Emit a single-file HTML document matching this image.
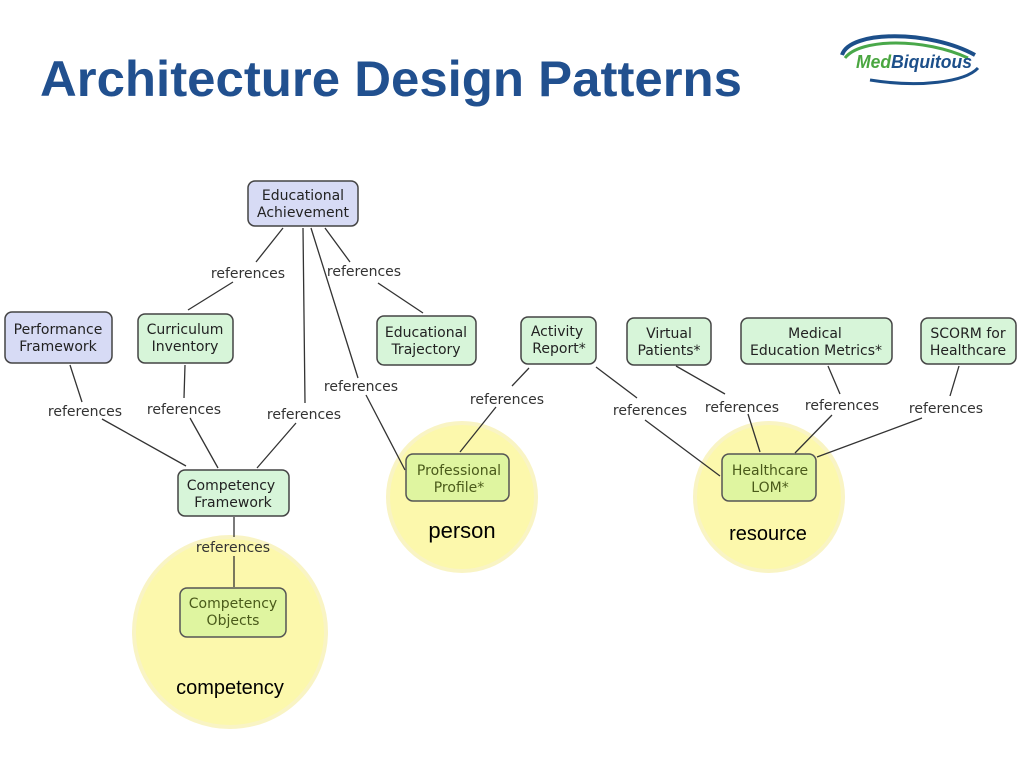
<!DOCTYPE html>
<html><head><meta charset="utf-8"><style>
html,body{margin:0;padding:0;background:#fff;width:1024px;height:768px;overflow:hidden}
svg{display:block}
.n{font-family:"DejaVu Sans",sans-serif;font-size:14px;fill:#222;text-anchor:middle}
.r{font-family:"DejaVu Sans",sans-serif;font-size:14px;fill:#333;text-anchor:middle}
.l{stroke:#333;stroke-width:1.3;fill:none}
.b{fill:#d7dbf5;stroke:#444;stroke-width:1.5}
.g{fill:#d7f5d9;stroke:#444;stroke-width:1.5}
.y{fill:#dff5a0;stroke:#555;stroke-width:1.5}
.c{fill:#fcf8ac;stroke:#f9f4c4;stroke-width:4}
.t{font-family:"Liberation Sans",sans-serif;font-size:20px;fill:#000;text-anchor:middle}
</style></head><body>
<svg width="1024" height="768" viewBox="0 0 1024 768">
<text x="40" y="96" font-family="Liberation Sans,sans-serif" font-weight="bold" font-size="50" fill="#21508f" textLength="702" lengthAdjust="spacingAndGlyphs">Architecture Design Patterns</text>
<!-- logo -->
<g>
<path d="M842 55 C850 30 930 30 975 55" stroke="#1c4f8a" stroke-width="4" fill="none"/>
<path d="M845 58 C860 38 925 38 968 58" stroke="#49a84a" stroke-width="3" fill="none"/>
<path d="M870 80 C920 88 965 82 978 68" stroke="#1c4f8a" stroke-width="3" fill="none"/>
<text x="856" y="68" font-family="Liberation Sans,sans-serif" font-weight="bold" font-style="italic" font-size="18" textLength="116" lengthAdjust="spacingAndGlyphs"><tspan fill="#4aa640">Med</tspan><tspan fill="#1c4f8a">Biquitous</tspan></text>
</g>
<!-- circles -->
<circle class="c" cx="462" cy="497" r="74"/>
<circle class="c" cx="769" cy="497" r="74"/>
<ellipse class="c" cx="230" cy="632" rx="96" ry="95"/>
<!-- lines -->
<path class="l" d="M283 228 L256 262 M233 282 L188 310 M303 228 L305 403 M311 228 L358 378 M325 228 L350 262 M378 283 L423 313
M70 365 L82 402 M102 419 L186 466 M185 365 L184 398 M190 418 L218 468 M296 423 L257 468 M366 395 L405 470
M529 368 L512 386 M496 407 L460 452 M596 367 L637 398 M645 420 L720 476 M676 366 L725 394 M748 414 L760 452
M828 366 L840 394 M832 415 L795 453 M959 366 L950 396 M922 418 L817 457 M234 517 L234 537 M234 556 L234 587"/>
<!-- references labels -->
<g class="r">
<text x="248" y="278">references</text>
<text x="364" y="276">references</text>
<text x="85" y="416">references</text>
<text x="184" y="414">references</text>
<text x="304" y="419">references</text>
<text x="361" y="391">references</text>
<text x="507" y="404">references</text>
<text x="650" y="415">references</text>
<text x="742" y="412">references</text>
<text x="842" y="410">references</text>
<text x="946" y="413">references</text>
<text x="233" y="552">references</text>
</g>
<!-- nodes -->
<rect class="b" x="248" y="181" width="110" height="45" rx="7"/>
<text class="n" x="303" y="200">Educational</text><text class="n" x="303" y="217">Achievement</text>
<rect class="b" x="5" y="312" width="107" height="51" rx="7"/>
<text class="n" x="58" y="334">Performance</text><text class="n" x="58" y="351">Framework</text>
<rect class="g" x="138" y="314" width="95" height="49" rx="7"/>
<text class="n" x="185" y="334">Curriculum</text><text class="n" x="185" y="351">Inventory</text>
<rect class="g" x="377" y="316" width="99" height="49" rx="7"/>
<text class="n" x="426" y="337">Educational</text><text class="n" x="426" y="354">Trajectory</text>
<rect class="g" x="521" y="317" width="75" height="47" rx="7"/>
<text class="n" x="557" y="336">Activity</text><text class="n" x="559" y="353">Report*</text>
<rect class="g" x="627" y="318" width="84" height="47" rx="7"/>
<text class="n" x="669" y="338">Virtual</text><text class="n" x="669" y="355">Patients*</text>
<rect class="g" x="741" y="318" width="151" height="46" rx="7"/>
<text class="n" x="815" y="338">Medical</text><text class="n" x="816" y="355">Education Metrics*</text>
<rect class="g" x="921" y="318" width="95" height="46" rx="7"/>
<text class="n" x="968" y="338">SCORM for</text><text class="n" x="968" y="355">Healthcare</text>
<rect class="g" x="178" y="470" width="111" height="46" rx="7"/>
<text class="n" x="231" y="490">Competency</text><text class="n" x="233" y="507">Framework</text>
<rect class="y" x="406" y="454" width="103" height="47" rx="7"/>
<text class="n" x="459" y="475" style="fill:#4a5a1a">Professional</text><text class="n" x="459" y="492" style="fill:#4a5a1a">Profile*</text>
<rect class="y" x="722" y="454" width="94" height="47" rx="7"/>
<text class="n" x="770" y="475" style="fill:#4a5a1a">Healthcare</text><text class="n" x="770" y="492" style="fill:#4a5a1a">LOM*</text>
<rect class="y" x="180" y="588" width="106" height="49" rx="7"/>
<text class="n" x="233" y="608" style="fill:#4a5a1a">Competency</text><text class="n" x="233" y="625" style="fill:#4a5a1a">Objects</text>
<!-- circle labels -->
<text class="t" x="462" y="538" style="font-size:22px">person</text>
<text class="t" x="768" y="540">resource</text>
<text class="t" x="230" y="694">competency</text>
</svg>
</body></html>
